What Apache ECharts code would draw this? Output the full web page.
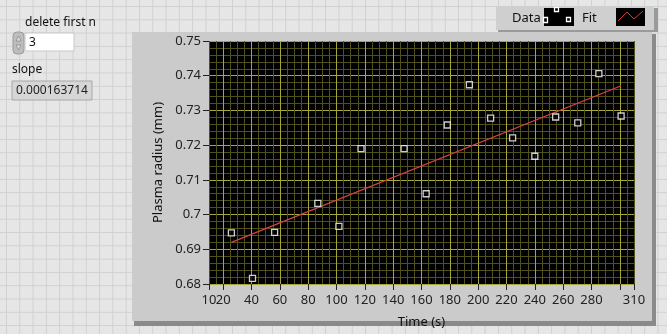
<!DOCTYPE html>
<html>
<head>
<meta charset="utf-8">
<script src="https://cdn.jsdelivr.net/npm/echarts@6/dist/echarts.min.js"></script>
<style>
html,body{margin:0;padding:0;}
body{width:667px;height:334px;overflow:hidden;
background-color:#e6e6e6;
background-image:linear-gradient(to right,#d0d0d0 1px,transparent 1px),linear-gradient(to bottom,#d0d0d0 1px,transparent 1px);
background-size:13.3px 13.3px;background-position:6px 6px;}
#chart{width:667px;height:334px;}
</style>
</head>
<body>
<div id="chart"></div>
<script>
// ---- data ----
const times = [25.8, 40.7, 56.3, 86.8, 101.7, 117.3, 147.7, 163.3, 178.2, 193.8, 208.8, 224.3, 240.0, 254.7, 270.3, 285.2, 300.9];
const radii = [0.6947, 0.6816, 0.6949, 0.7032, 0.6966, 0.7190, 0.7190, 0.7060, 0.7258, 0.7374, 0.7278, 0.7221, 0.7168, 0.7281, 0.7264, 0.7406, 0.7284];
const fitTimes = [25.8, 300.9];
const fitRadii = [0.6920, 0.7371];
const xTickValues = [10, 20, 40, 60, 80, 100, 120, 140, 160, 180, 200, 220, 240, 260, 280, 300, 310];
const xLabelValues = [20, 40, 60, 80, 100, 120, 140, 160, 180, 200, 220, 240, 260, 280, 310];
const xMinLabel = 10;
const yTickValues = [0.68, 0.69, 0.70, 0.71, 0.72, 0.73, 0.74, 0.75];
const deleteFirstN = "3";
const slopeText = "0.000163714";

const dataPts = times.map((t, i) => [t, radii[i]]);
const fitPts = fitTimes.map((t, i) => [t, fitRadii[i]]);

const MAJOR = '#a6a63a', MINOR = '#50501c';
const FONT = '"Noto Sans", "Open Sans", sans-serif';
const LABEL_MARGIN = 10;

const chart = echarts.init(document.getElementById('chart'), null, {renderer: 'canvas'});
chart.setOption({
  backgroundColor: 'transparent',
  animation: false,
  textStyle: {fontFamily: FONT},
  grid: {left: 209, top: 41, right: 33, bottom: 46, show: true, backgroundColor: '#000', borderWidth: 0, containLabel: false},
  xAxis: [{
    type: 'value', min: 10, max: 310, interval: 5, position: 'bottom',
    name: 'Time (s)', nameLocation: 'middle', nameGap: 32,
    nameTextStyle: {color: '#111', fontSize: 13, fontFamily: FONT},
    axisLine: {show: false},
    axisTick: {show: true, length: 6, customValues: xTickValues, lineStyle: {color: '#222'}},
    axisLabel: {customValues: xLabelValues, color: '#222', fontSize: 13, margin: LABEL_MARGIN, fontFamily: FONT,
      showMinLabel: true, showMaxLabel: true, hideOverlap: false},
    splitLine: {show: false}
  }, {
    // grid-line axis (same scale, no labels)
    type: 'value', min: 10, max: 310, interval: 5, position: 'top',
    axisLine: {show: false}, axisTick: {show: false}, axisLabel: {show: false},
    splitLine: {show: true, lineStyle: {color: [MINOR, MINOR, MAJOR, MINOR], width: 1}}
  }],
  yAxis: [{
    type: 'value', min: 0.68, max: 0.75, interval: 0.002, position: 'left',
    name: 'Plasma radius (mm)', nameLocation: 'middle', nameGap: 27, nameRotate: 90,
    nameTextStyle: {color: '#111', fontSize: 13, fontFamily: FONT},
    axisLine: {show: false},
    axisTick: {show: true, length: 6, customValues: yTickValues, lineStyle: {color: '#222'}},
    axisLabel: {customValues: yTickValues, color: '#222', fontSize: 13, margin: 8, fontFamily: FONT,
      formatter: v => String(parseFloat(Number(v).toFixed(3)))},
    splitLine: {show: false}
  }, {
    type: 'value', min: 0.68, max: 0.75, interval: 0.002, position: 'right',
    axisLine: {show: false}, axisTick: {show: false}, axisLabel: {show: false},
    splitLine: {show: true, lineStyle: {color: [MAJOR, MINOR, MINOR, MINOR, MINOR], width: 1}}
  }],
  graphic: [
    // graph frame
    {type: 'rect', z: -100, shape: {x: 134, y: 34, width: 522, height: 292}, style: {fill: '#8a8a8a'}, silent: true},
    {type: 'rect', z: -99, shape: {x: 132, y: 32, width: 520, height: 289}, style: {fill: '#cbcbcb'}, silent: true},
    // legend frame
    {type: 'rect', z: -100, shape: {x: 498, y: 8, width: 160, height: 24}, style: {fill: '#9a9a9a'}},
    {type: 'rect', z: -99, shape: {x: 496, y: 6, width: 158, height: 24}, style: {fill: '#cfcfcf'}},
    {type: 'text', z: 10, style: {text: 'Data', x: 512, y: 18, fill: '#111', font: '13px ' + FONT, textVerticalAlign: 'middle'}},
    {type: 'rect', z: 10, shape: {x: 546, y: 8, width: 28, height: 18}, style: {fill: '#000'}},
    {type: 'rect', z: 11, shape: {x: 554.5, y: 7.5, width: 4, height: 4}, style: {fill: '#000', stroke: '#fff', lineWidth: 1.3}},
    {type: 'rect', z: 11, shape: {x: 543.5, y: 17.5, width: 4, height: 5}, style: {fill: '#000', stroke: '#fff', lineWidth: 1.3}},
    {type: 'rect', z: 11, shape: {x: 566.5, y: 17.5, width: 4, height: 4}, style: {fill: '#000', stroke: '#fff', lineWidth: 1.3}},
    {type: 'rect', z: 10, shape: {x: 544, y: 8, width: 2, height: 18}, style: {fill: '#000'}},
    {type: 'text', z: 10, style: {text: 'Fit', x: 582, y: 18, fill: '#111', font: '13px ' + FONT, textVerticalAlign: 'middle'}},
    {type: 'rect', z: 10, shape: {x: 616, y: 8, width: 29, height: 18}, style: {fill: '#000'}},
    {type: 'polyline', z: 11, shape: {points: [[618, 21], [627, 12], [634, 19], [643, 11]]}, style: {stroke: '#d04040', lineWidth: 1, fill: null}},
    // controls
    {type: 'text', z: 10, style: {text: 'delete first n', x: 25, y: 23, fill: '#111', font: '12px ' + FONT, textVerticalAlign: 'middle'}},
    {type: 'rect', z: 10, shape: {x: 13, y: 32, width: 11, height: 22, r: 4}, style: {fill: '#bdbdbd', stroke: '#9a9a9a', lineWidth: 1}},
    {type: 'polygon', z: 11, shape: {points: [[16, 41], [18.5, 36], [21, 41]]}, style: {fill: '#e0e0e0', stroke: '#8a8a8a', lineWidth: 0.8}},
    {type: 'polygon', z: 11, shape: {points: [[16, 45], [18.5, 50], [21, 45]]}, style: {fill: '#e0e0e0', stroke: '#8a8a8a', lineWidth: 0.8}},
    {type: 'rect', z: 10, shape: {x: 25, y: 33, width: 49, height: 18}, style: {fill: '#ffffff', stroke: '#c8c8c8', lineWidth: 1}},
    {type: 'text', z: 11, style: {text: deleteFirstN, x: 29, y: 43, fill: '#111', font: '12px ' + FONT, textVerticalAlign: 'middle'}},
    {type: 'text', z: 10, style: {text: 'slope', x: 12, y: 70, fill: '#111', font: '12px ' + FONT, textVerticalAlign: 'middle'}},
    {type: 'rect', z: 10, shape: {x: 12, y: 81, width: 80, height: 19}, style: {fill: '#d6d6d6', stroke: '#a8a8a8', lineWidth: 1}},
    {type: 'text', z: 11, style: {text: slopeText, x: 16, y: 91, fill: '#222', font: '12px ' + FONT, textVerticalAlign: 'middle'}}
  ],
  series: [
    {
      name: 'Fit', type: 'line', data: fitPts, showSymbol: false, symbol: 'none',
      xAxisIndex: 0, yAxisIndex: 0,
      lineStyle: {color: '#d84444', width: 1.2}, z: 3, silent: true
    },
    {
      name: 'Data', type: 'scatter', data: dataPts, symbol: 'rect', symbolSize: 6,
      xAxisIndex: 0, yAxisIndex: 0,
      itemStyle: {color: '#000', borderColor: '#fff', borderWidth: 1.3}, z: 4
    }
  ]
});

// The axis-minimum label "10" touches "20" in the reference; ECharts would hide one of the
// two overlapping labels, so place "10" separately at the position the x scale gives for it.
const px10 = chart.convertToPixel({xAxisIndex: 0}, xMinLabel);
const pyBottom = chart.convertToPixel({yAxisIndex: 0}, 0.68);
chart.setOption({
  graphic: [{
    id: 'xMinLabel', type: 'text', z: 10,
    style: {text: String(xMinLabel), x: px10, y: pyBottom + LABEL_MARGIN, fill: '#222',
      font: '13px ' + FONT, textAlign: 'center', textVerticalAlign: 'top'}
  }]
});
</script>
</body>
</html>
